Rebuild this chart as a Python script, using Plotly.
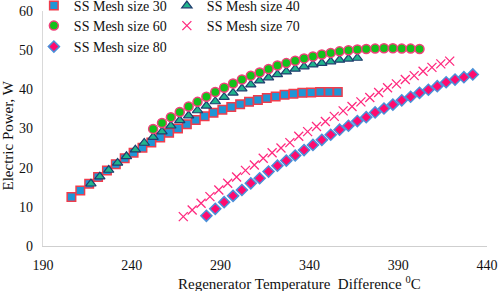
import plotly.graph_objects as go

# ---- data ----
x30 = [206 + 5 * i for i in range(31)]
y30 = [12.5, 14.2, 15.9, 17.6, 19.3, 20.9, 22.4, 23.8, 25.1, 26.4, 27.7, 28.9, 30.0, 31.1, 32.2, 33.1,
       34.0, 34.8, 35.5, 36.2, 36.8, 37.3, 37.8, 38.2, 38.6, 38.9, 39.1, 39.2, 39.3, 39.3, 39.3]

x40 = [217 + 5 * i for i in range(31)]
y40 = [15.9, 17.7, 19.4, 21.2, 22.9, 24.6, 26.3, 27.8, 29.2, 30.7, 32.1, 33.3, 34.6, 35.8, 36.9, 38.0,
       39.1, 40.2, 41.2, 42.2, 43.0, 43.8, 44.5, 45.2, 45.8, 46.3, 46.7, 47.1, 47.5, 47.8, 48.0]

x60 = [252 + 5 * i for i in range(31)]
y60 = [29.9, 31.4, 32.9, 34.2, 35.6, 36.8, 38.1, 39.3, 40.4, 41.5, 42.5, 43.5, 44.3, 45.2, 46.1, 46.7,
       47.3, 47.9, 48.4, 48.9, 49.3, 49.7, 50.0, 50.2, 50.3, 50.4, 50.5, 50.5, 50.4, 50.4, 50.3]

x70 = [269 + 5 * i for i in range(31)]
y70 = [7.5, 9.2, 10.9, 12.6, 14.3, 16.0, 17.6, 19.3, 20.7, 22.4, 23.8, 25.0, 26.4, 28.0, 29.2, 30.5,
       31.8, 33.1, 34.5, 35.6, 36.8, 37.9, 39.2, 40.4, 41.4, 42.5, 43.5, 44.6, 45.6, 46.5, 47.2]

x80 = [282 + 5 * i for i in range(31)]
y80 = [7.7, 9.5, 11.2, 12.8, 14.3, 16.0, 17.3, 19.0, 20.5, 21.8, 23.1, 24.5, 25.8, 27.1, 28.4, 29.7,
       30.7, 31.9, 32.9, 34.1, 35.1, 36.1, 37.2, 38.1, 39.1, 39.9, 40.8, 41.8, 42.5, 43.1, 43.8]

names = ["SS Mesh size 30", "SS Mesh size 40", "SS Mesh size 60", "SS Mesh size 70", "SS Mesh size 80"]
x_ticks = [190, 240, 290, 340, 390, 440]
y_ticks = [0, 10, 20, 30, 40, 50, 60]

FONT = "Liberation Serif, Times New Roman, serif"

fig = go.Figure()
fig.add_trace(go.Scatter(x=x30, y=y30, mode="markers", name=names[0], legend="legend",
                         marker=dict(symbol="square", size=8.5, color="#1e96d6",
                                     line=dict(color="#f03c4c", width=1.5))))
fig.add_trace(go.Scatter(x=x40, y=y40, mode="markers", name=names[1], legend="legend",
                         marker=dict(symbol="triangle-up", size=9, color="#1fb58c",
                                     line=dict(color="#1f3d6e", width=1.2))))
fig.add_trace(go.Scatter(x=x60, y=y60, mode="markers", name=names[2], legend="legend2",
                         marker=dict(symbol="circle", size=9, color="#12c21a",
                                     line=dict(color="#f0407a", width=1.5))))
fig.add_trace(go.Scatter(x=x70, y=y70, mode="markers", name=names[3], legend="legend2",
                         marker=dict(symbol="x-thin-open", size=9, color="#ff2a7f",
                                     line=dict(color="#ff2a7f", width=1.3))))
fig.add_trace(go.Scatter(x=x80, y=y80, mode="markers", name=names[4], legend="legend3",
                         marker=dict(symbol="diamond", size=8.5, color="#ff0a6e",
                                     line=dict(color="#4a90d9", width=1.5))))

leg_common = dict(orientation="h", xref="container", yref="container", xanchor="left",
                  yanchor="middle", bgcolor="rgba(0,0,0,0)", borderwidth=0,
                  font=dict(family=FONT, size=14, color="#111"), entrywidth=88,
                  itemwidth=30, tracegroupgap=0)

L, T, PW, PH = 43, 11, 444, 235  # plot area in px

fig.update_layout(
    width=498, height=291,
    margin=dict(l=L, r=498 - L - PW, t=T, b=291 - T - PH, autoexpand=False),
    paper_bgcolor="white", plot_bgcolor="white",
    font=dict(family=FONT, size=14, color="#111"),
    showlegend=True,
    legend=dict(x=0.068, y=1 - 6 / 291, **leg_common),
    legend2=dict(x=0.068, y=1 - 26 / 291, **leg_common),
    legend3=dict(x=0.068, y=1 - 47 / 291, **leg_common),
    xaxis=dict(range=[190, 440], tickvals=x_ticks, ticktext=[str(v) for v in x_ticks],
               showgrid=False, zeroline=False, showline=True, linecolor="#cfcfcf", linewidth=1.3,
               ticks="", ticklabelstandoff=6, tickfont=dict(family=FONT, size=14, color="#111")),
    yaxis=dict(range=[0, 60], tickvals=y_ticks, ticktext=[str(v) for v in y_ticks],
               showgrid=False, zeroline=False, showline=True, linecolor="#d9d9d9", linewidth=1.3,
               ticks="", ticklabelstandoff=6, tickfont=dict(family=FONT, size=14, color="#111")),
    annotations=[
        dict(text="Regenerator Temperature  Difference <sup>0</sup>C", xref="paper", yref="paper",
             x=(299 - L) / PW, y=(T + PH - 283) / PH, xanchor="center", yanchor="middle",
             showarrow=False, font=dict(family=FONT, size=15, color="#111")),
        dict(text="Electric Power, W", xref="paper", yref="paper", textangle=-90,
             x=(7.5 - L) / PW, y=(T + PH - 136) / PH, xanchor="center", yanchor="middle",
             showarrow=False, font=dict(family=FONT, size=15, color="#111")),
    ],
)

fig.write_html("out.html", config={"displayModeBar": False},
               post_script="document.body.style.margin='0';document.body.style.overflow='hidden';")
